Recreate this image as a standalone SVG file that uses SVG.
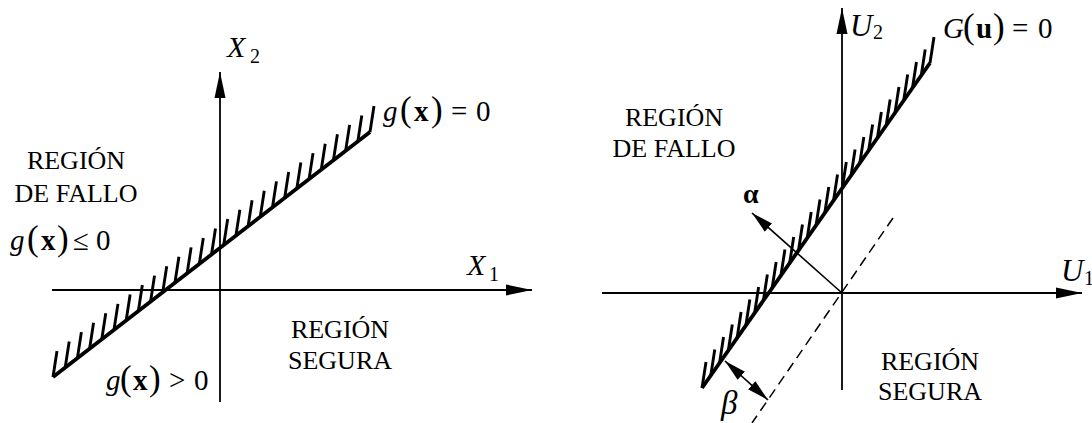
<svg xmlns="http://www.w3.org/2000/svg" width="1092" height="423" viewBox="0 0 1092 423">
<style>
text{font-family:"Liberation Serif","Times New Roman",serif;fill:#000}
.r{font-size:26px;text-anchor:middle}
.m{font-size:29px}
.i{font-style:italic}
.b{font-weight:bold}
.p{font-size:35px}
.ax{stroke:#000;stroke-width:1.8;fill:none}
.lim{stroke:#000;stroke-width:3.8;fill:none}
.hat{stroke:#000;stroke-width:2.9;fill:none}
.thin{stroke:#000;stroke-width:1.6;fill:none}
.dash{stroke:#000;stroke-width:1.5;fill:none;stroke-dasharray:10 6}
</style>
<defs>
<marker id="ah" viewBox="0 -6 26 12" refX="26" refY="0" markerWidth="26" markerHeight="12" markerUnits="userSpaceOnUse" orient="auto">
<path d="M0,-5.5 L26,0 L0,5.5 z" fill="#000"/>
</marker>
<marker id="ahs" viewBox="0 -6 22 12" refX="22" refY="0" markerWidth="22" markerHeight="12" markerUnits="userSpaceOnUse" orient="auto-start-reverse">
<path d="M0,-5.5 L22,0 L0,5.5 z" fill="#000"/>
</marker>
</defs>

<g id="connectors">
<line class="ax" x1="52" y1="290" x2="532" y2="290" marker-end="url(#ah)"/>
<line class="ax" x1="220" y1="402" x2="220" y2="72" marker-end="url(#ah)"/>
<line class="ax" x1="602" y1="293" x2="1082" y2="293" marker-end="url(#ah)"/>
<line class="ax" x1="842" y1="390" x2="842" y2="8" marker-end="url(#ah)"/>
<line class="thin" x1="842" y1="293" x2="752" y2="213" marker-end="url(#ahs)"/>
<line class="thin" x1="725" y1="361" x2="768" y2="400" marker-start="url(#ahs)" marker-end="url(#ahs)"/>
<line class="dash" x1="893" y1="218" x2="752" y2="423"/>
</g>

<g id="limit-left">
<line class="lim" x1="53" y1="377" x2="370" y2="132"/>
<path class="hat" d="M53,377 l4,-26 m8.192,16.577 l4,-26 m8.192,16.577 l4,-26 m8.192,16.577 l4,-26 m8.192,16.577 l4,-26 m8.192,16.577 l4,-26 m8.192,16.577 l4,-26 m8.192,16.577 l4,-26 m8.192,16.577 l4,-26 m8.192,16.577 l4,-26 m8.192,16.577 l4,-26 m8.192,16.577 l4,-26 m8.192,16.577 l4,-26 m8.192,16.577 l4,-26 m8.192,16.577 l4,-26 m8.192,16.577 l4,-26 m8.192,16.577 l4,-26 m8.192,16.577 l4,-26 m8.192,16.577 l4,-26 m8.192,16.577 l4,-26 m8.192,16.577 l4,-26 m8.192,16.577 l4,-26 m8.192,16.577 l4,-26 m8.192,16.577 l4,-26 m8.192,16.577 l4,-26 m8.192,16.577 l4,-26 m8.192,16.577 l4,-26"/>
</g>

<g id="limit-right">
<line class="lim" x1="702" y1="388" x2="930" y2="63"/>
<path class="hat" d="M702,388 l4,-26 m4.769,13.5 l4,-26 m4.769,13.5 l4,-26 m4.769,13.5 l4,-26 m4.769,13.5 l4,-26 m4.769,13.5 l4,-26 m4.769,13.5 l4,-26 m4.769,13.5 l4,-26 m4.769,13.5 l4,-26 m4.769,13.5 l4,-26 m4.769,13.5 l4,-26 m4.769,13.5 l4,-26 m4.769,13.5 l4,-26 m4.769,13.5 l4,-26 m4.769,13.5 l4,-26 m4.769,13.5 l4,-26 m4.769,13.5 l4,-26 m4.769,13.5 l4,-26 m4.769,13.5 l4,-26 m4.769,13.5 l4,-26 m4.769,13.5 l4,-26 m4.769,13.5 l4,-26 m4.769,13.5 l4,-26 m4.769,13.5 l4,-26 m4.769,13.5 l4,-26 m4.769,13.5 l4,-26 m4.769,13.5 l4,-26"/>
</g>

<g id="label-X2"><text y="57"><tspan x="227" class="i" font-size="30">X</tspan><tspan x="250" y="63" font-size="20">2</tspan></text></g>
<g id="label-X1"><text y="275"><tspan x="467" class="i" font-size="30">X</tspan><tspan x="489" y="281" font-size="20">1</tspan></text></g>
<g id="label-U2"><text y="36"><tspan x="850" class="i" font-size="31">U</tspan><tspan x="873" y="39" font-size="20">2</tspan></text></g>
<g id="label-U1"><text y="281"><tspan x="1061" class="i" font-size="31">U</tspan><tspan x="1084" y="285" font-size="20">1</tspan></text></g>

<g id="eq-left"><text class="m" y="121"><tspan x="383" class="i">g</tspan><tspan x="400" class="p">(</tspan><tspan x="414" class="b">x</tspan><tspan x="431" class="p">)</tspan><tspan x="451">=</tspan><tspan x="476">0</tspan></text></g>
<g id="fail-left">
<text class="r" x="76" y="169">REGIÓN</text>
<text class="r" x="76" y="202">DE FALLO</text>
<text class="m" y="250"><tspan x="10" class="i">g</tspan><tspan x="27" class="p">(</tspan><tspan x="41" class="b">x</tspan><tspan x="57" class="p">)</tspan><tspan x="73">≤</tspan><tspan x="96">0</tspan></text>
</g>
<g id="safe-left">
<text class="m" y="390"><tspan x="106" class="i">g</tspan><tspan x="120" class="p">(</tspan><tspan x="133" class="b">x</tspan><tspan x="149" class="p">)</tspan><tspan x="169">&gt;</tspan><tspan x="194">0</tspan></text>
<text class="r" x="340" y="338">REGIÓN</text>
<text class="r" x="340" y="369">SEGURA</text>
</g>

<g id="eq-right"><text class="m" y="38"><tspan x="943" class="i">G</tspan><tspan x="963" class="p">(</tspan><tspan x="976" class="b">u</tspan><tspan x="993" class="p">)</tspan><tspan x="1012">=</tspan><tspan x="1038">0</tspan></text></g>
<g id="fail-right">
<text class="r" x="674" y="126">REGIÓN</text>
<text class="r" x="674" y="157">DE FALLO</text>
</g>
<g id="safe-right">
<text class="r" x="930" y="370">REGIÓN</text>
<text class="r" x="930" y="400">SEGURA</text>
</g>
<g id="label-alpha"><text class="b" x="743" y="203" font-size="28">α</text></g>
<g id="label-beta"><text class="i" x="721" y="414" font-size="33">β</text></g>
</svg>
